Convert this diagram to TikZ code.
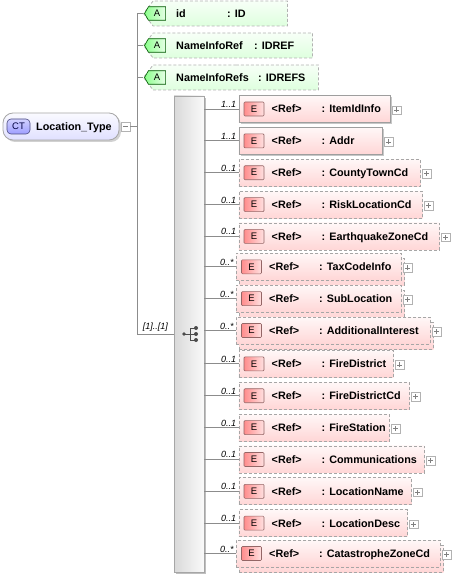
\documentclass[tikz,border=0pt]{standalone}
\usepackage{fontspec}
\setmainfont{Liberation Sans}
\usepackage{tikz}
\usetikzlibrary{shapes.symbols,shadows}
\tikzset{
  conn/.style={draw=black!45, line width=0.8pt},
  lbl/.style={font=\fontsize{10.8}{12}\selectfont\bfseries, inner sep=0pt},
  card/.style={font=\fontsize{9}{10}\selectfont\itshape, inner sep=1pt},
  elemreq/.style={draw=black!38, line width=0.8pt, top color=red!3, bottom color=red!16,
    minimum height=27pt, inner sep=0pt,
    drop shadow={shadow xshift=2pt, shadow yshift=-2pt, fill=black!22, opacity=1}},
  elemopt/.style={draw=black!35, line width=0.8pt, dash pattern=on 3pt off 2pt,
    top color=red!3, bottom color=red!16, minimum height=27pt, inner sep=0pt},
  ebadge/.style={draw=red!30!black!60, line width=0.6pt, left color=red!45, right color=red!12,
    minimum width=20pt, minimum height=14pt, inner sep=0pt, rounded corners=1pt,
    font=\fontsize{9.5}{10}\selectfont},
  attrbox/.style={shape=signal, signal to=west, signal pointer angle=105,
    draw=black!30, line width=0.8pt, dash pattern=on 3pt off 2pt,
    top color=green!3, bottom color=green!13, minimum height=25pt, inner sep=0pt},
  abadge/.style={shape=signal, signal to=west, signal pointer angle=120,
    draw=green!35!black, line width=0.6pt, left color=green!45, right color=green!10,
    minimum width=21pt, minimum height=13.5pt, inner sep=0pt, font=\fontsize{9.5}{10}\selectfont},
  plusbox/.style={draw=black!30, fill=white, minimum size=8.5pt, inner sep=0pt,
    path picture={\draw[black!50, line width=0.6pt]
      ([xshift=-2.5pt]path picture bounding box.center) -- ([xshift=2.5pt]path picture bounding box.center)
      ([yshift=-2.5pt]path picture bounding box.center) -- ([yshift=2.5pt]path picture bounding box.center);}},
  minusbox/.style={draw=black!30, fill=white, minimum size=9pt, inner sep=0pt,
    path picture={\draw[black!50, line width=0.6pt]
      ([xshift=-2.5pt]path picture bounding box.center) -- ([xshift=2.5pt]path picture bounding box.center);}},
  seqbox/.style={draw=black!35, line width=0.8pt, left color=black!15, right color=black!2,
    minimum width=30pt, minimum height=476pt, inner sep=0pt,
    drop shadow={shadow xshift=2pt, shadow yshift=-2pt, fill=black!25, opacity=1}},
  ctbox/.style={draw=black!35, line width=0.8pt, rounded corners=10pt, top color=blue!2, bottom color=blue!12,
    minimum width=116pt, minimum height=27pt, inner sep=0pt,
    drop shadow={shadow xshift=2pt, shadow yshift=-2pt, fill=black!18, opacity=1}},
  ctbadge/.style={draw=blue!30!black!70, line width=0.6pt, rounded corners=4pt, top color=blue!18, bottom color=blue!38,
    minimum width=23pt, minimum height=15pt, inner sep=0pt, text=blue!25!black,
    font=\fontsize{9.5}{10}\selectfont}
}

\begin{document}
\begin{tikzpicture}[x=1pt,y=-1pt]
    \useasboundingbox (0,0) rectangle (452,577);
    % complex type
    \node[ctbox] (ct) at (61,126.5) {};
    \node[ctbadge] (ctb) at (18.5,126.5) {CT};
    \node[lbl, anchor=base west] (ctname) at (36,130.5) {Location\_Type};
    \node[minusbox] (ctm) at (125.5,126.5) {};
    \coordinate (trunk) at (137,126.5);
    \draw[conn] (ctm) -- (trunk);

    % attributes
    \foreach \k/\y/\rx/\name/\tx/\type in {1/13.5/287/id/227/ID, 2/45.5/312/NameInfoRef/254/IDREF,
        3/77.5/318/NameInfoRefs/258/IDREFS}{
      \pgfmathsetmacro\w{\rx-143}
      \node[attrbox, minimum width=\w pt, anchor=west] (a\k) at (143,\y) {};
      \node[abadge] (ab\k) at (157,\y) {A};
      \node[lbl, anchor=base west] (an\k) at (176,\y+4) {\name};
      \node[lbl, anchor=base west] (at\k) at (\tx,\y+4) {: \type};
      \draw[conn] (a\k.west -| trunk) -- (a\k.west);
    }

    % sequence
    \node[seqbox] (seq) at (189,334) {};
    \draw[conn] (a1.west -| trunk) -- (seq.west -| trunk) -- (seq.west) node[card, midway, above, yshift=1pt] {[1]..[1]};
    \draw[black!70, line width=0.8pt] (184,334) -- (190,334) (190,328) -- (190,340)
      (190,328) -- (196,328) (190,334) -- (196,334) (190,340) -- (196,340);
    \fill[black!70] (184,334) circle (1.8pt);
    \foreach \yy in {328,334,340} \fill[black!70] (196,\yy) circle (2pt);

    % elements (kind: 0 = 1..1, 1 = 0..1, 2 = 0..*)
    \foreach \k/\rx/\card/\name/\kind in {
        1/390/1..1/ItemIdInfo/0, 2/382/1..1/Addr/0, 3/420/0..1/CountyTownCd/1,
        4/422/0..1/RiskLocationCd/1, 5/439/0..1/EarthquakeZoneCd/1, 6/401/0..*/TaxCodeInfo/2,
        7/401/0..*/SubLocation/2, 8/430/0..*/AdditionalInterest/2, 9/393/0..1/FireDistrict/1,
        10/409/0..1/FireDistrictCd/1, 11/389/0..1/FireStation/1, 12/424/0..1/Communications/1,
        13/411/0..1/LocationName/1, 14/407/0..1/LocationDesc/1, 15/440/0..*/CatastropheZoneCd/2}{
      \pgfmathsetmacro\yy{109+31.86*(\k-1)}
      \ifnum\kind=2
        \def\dx{-2.5}\def\dy{-1.5}
        \pgfmathsetmacro\wb{\rx+3-239}
        \node[elemopt, minimum width=\wb pt, anchor=west] (b\k) at (239,\yy+3.5) {};
      \else
        \def\dx{0}\def\dy{0}
      \fi
      \ifnum\kind=0 \tikzset{cur/.style={elemreq}}\else \tikzset{cur/.style={elemopt}}\fi
      \pgfmathsetmacro\w{\rx-238.5-\dx}
      \node[cur, minimum width=\w pt, anchor=west] (e\k) at (238.5+\dx,\yy+\dy) {};
      \node[ebadge] (eb\k) at (254+\dx,\yy+\dy) {E};
      \node[lbl, anchor=base west] (er\k) at (271.5+\dx,\yy+\dy+4) {<Ref>};
      \node[lbl, anchor=base west] (en\k) at (321.5+\dx,\yy+\dy+4) {: \name};
      \node[plusbox] (p\k) at (\rx+6.5,\yy+\dy+1) {};
      \draw[conn] (seq.east |- e\k.west) -- (e\k.west) node[card, pos=1, above left, xshift=-1pt] {\card};
    }
\end{tikzpicture}
\end{document}
